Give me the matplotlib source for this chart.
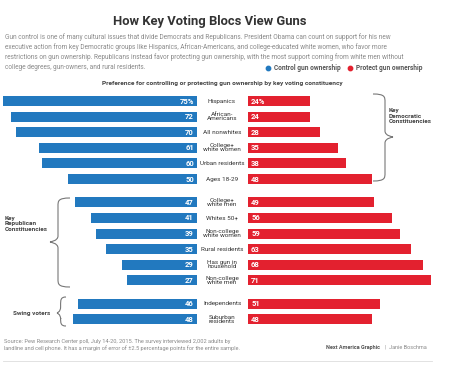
import matplotlib
matplotlib.use("Agg")
import matplotlib.pyplot as plt
from matplotlib.path import Path
from matplotlib.patches import PathPatch
import numpy as np

plt.rcParams['font.family'] = ['Roboto', 'DejaVu Sans']

# ---- data ----
dem_labels = ["Hispanics", "African-\nAmericans", "All nonwhites", "College+\nwhite women", "Urban residents", "Ages 18-29"]
dem_control = [75, 72, 70, 61, 60, 50]
dem_protect = [24, 24, 28, 35, 38, 48]

rep_labels = ["College+\nwhite men", "Whites 50+", "Non-college\nwhite women", "Rural residents", "Has gun in\nhousehold", "Non-college\nwhite men"]
rep_control = [47, 41, 39, 35, 29, 27]
rep_protect = [49, 56, 59, 63, 68, 71]

swing_labels = ["Independents", "Suburban\nresidents"]
swing_control = [46, 48]
swing_protect = [51, 48]

BLUE = "#2279bf"
RED = "#e3212f"
DARK = "#333333"
GRAY = "#8a8a8a"

W, H = 450, 366
fig = plt.figure(figsize=(W / 100, H / 100), dpi=100)
fig.patch.set_facecolor("white")

labels = dem_labels + rep_labels + swing_labels
control = dem_control + rep_control + swing_control
protect = dem_protect + rep_protect + swing_protect
pos = np.concatenate([np.arange(6), 6.5 + np.arange(6), 13 + np.arange(2)])

row_px = 15.6
y0_px = 101
top_px = y0_px - 0.5 * row_px
bot_px = y0_px + 14.5 * row_px

def fax(left_px, width_px):
    return fig.add_axes([left_px / W, (H - bot_px) / H, width_px / W, (bot_px - top_px) / H])

axL = fax(3, 194)
axR = fax(248, 193.5)
for ax in (axL, axR):
    ax.set_ylim(14.5, -0.5)
    ax.axis("off")
axL.set_xlim(75, 0)
axR.set_xlim(0, 75)

bh = 0.64
axL.barh(pos, control, height=bh, color=BLUE)
axR.barh(pos, protect, height=bh, color=RED)

for i, (p, c, r) in enumerate(zip(pos, control, protect)):
    s = "%" if i == 0 else ""
    axL.text(1.2, p, f"{c}{s}", ha="right", va="center", color="white",
             fontsize=5.5, fontweight="bold")
    axR.text(1.2, p, f"{r}{s}", ha="left", va="center", color="white",
             fontsize=5.5, fontweight="bold")

# overlay axes in pixel coords
ov = fig.add_axes([0, 0, 1, 1], zorder=-1)
ov.set_xlim(0, W)
ov.set_ylim(H, 0)
ov.axis("off")

for p, lab in zip(pos, labels):
    ov.text(222, y0_px + p * row_px, lab, ha="center", va="center", fontsize=4.6,
            color=DARK, linespacing=0.82)

# title & subtitle
ov.text(210, 22, "How Key Voting Blocs View Guns", ha="center", va="center",
        fontsize=9.4, fontweight="bold", color=DARK)
sub = ["Gun control is one of many cultural issues that divide Democrats and Republicans. President Obama can count on support for his new",
       "executive action from key Democratic groups like Hispanics, African-Americans, and college-educated white women, who favor more",
       "restrictions on gun ownership. Republicans instead favor protecting gun ownership, with the most support coming from white men without",
       "college degrees, gun-owners, and rural residents."]
for k, line in enumerate(sub):
    ov.text(5, 37 + k * 10.2, line, ha="left", va="center", fontsize=4.7, color=GRAY)

# legend
ov.scatter([268], [68], s=10, color=BLUE, zorder=3)
ov.text(274, 68, "Control gun ownership", ha="left", va="center", fontsize=4.7,
        fontweight="bold", color="#555555")
ov.scatter([350], [68], s=10, color=RED, zorder=3)
ov.text(356, 68, "Protect gun ownership", ha="left", va="center", fontsize=4.7,
        fontweight="bold", color="#555555")

ov.text(222, 83, "Preference for controlling or protecting gun ownership by key voting constituency",
        ha="center", va="center", fontsize=4.65, fontweight="bold", color="#444444")

# braces
def brace(x_tip, x_mid, y_top, y_bot, y_mid):
    d = x_mid - x_tip
    xs = x_tip + 0.6 * d
    verts = [(x_tip, y_top),
             (xs, y_top), (xs, y_top + 3), (xs, y_top + 8),
             (xs, y_mid - 6),
             (xs, y_mid - 1), (x_mid, y_mid), (x_mid, y_mid),
             (x_mid, y_mid), (xs, y_mid + 1), (xs, y_mid + 6),
             (xs, y_bot - 8),
             (xs, y_bot - 3), (xs, y_bot), (x_tip, y_bot)]
    codes = [Path.MOVETO,
             Path.CURVE4, Path.CURVE4, Path.CURVE4,
             Path.LINETO,
             Path.CURVE4, Path.CURVE4, Path.CURVE4,
             Path.CURVE4, Path.CURVE4, Path.CURVE4,
             Path.LINETO,
             Path.CURVE4, Path.CURVE4, Path.CURVE4]
    ov.add_patch(PathPatch(Path(verts, codes), fill=False, lw=0.8, ec="#777777"))

brace(373, 393, 94, 181, 137)
brace(70, 50, 198, 287, 242)
brace(66, 57, 297, 326, 313)

ov.text(389, 116, "Key\nDemocratic\nConstituencies", ha="left", va="center",
        fontsize=4.6, fontweight="bold", color="#444444", linespacing=1.2)
ov.text(5, 224, "Key\nRepublican\nConstituencies", ha="left", va="center",
        fontsize=4.6, fontweight="bold", color="#444444", linespacing=1.2)
ov.text(13, 314, "Swing voters", ha="left", va="center",
        fontsize=4.6, fontweight="bold", color="#444444")

# footer
ov.text(4, 341, "Source: Pew Research Center poll, July 14-20, 2015. The survey interviewed 2,002 adults by",
        ha="left", va="center", fontsize=4.1, color=GRAY)
ov.text(4, 348, "landline and cell phone. It has a margin of error of \u00b12.5 percentage points for the entire sample.",
        ha="left", va="center", fontsize=4.1, color=GRAY)
ov.text(326, 347, "Next America Graphic", ha="left", va="center", fontsize=4.0,
        fontweight="bold", color="#555555")
ov.text(385, 347, "|  Janie Boschma", ha="left", va="center", fontsize=4.0, color=GRAY)
ov.plot([3, 432], [361, 361], color="#dddddd", lw=0.6)

fig.savefig("out.png", dpi=100, facecolor="white")
